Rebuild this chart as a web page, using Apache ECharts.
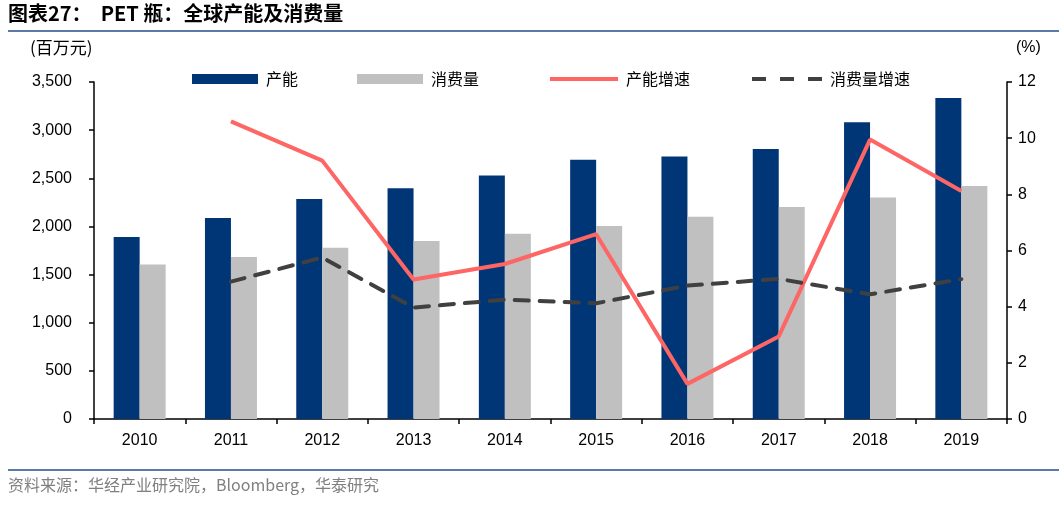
<!DOCTYPE html>
<html><head><meta charset="utf-8">
<script src="https://cdn.jsdelivr.net/npm/echarts@6/dist/echarts.min.js"></script>
<style>html,body{margin:0;padding:0;background:#fff}#c{width:1064px;height:505px}</style>
</head><body><div id="c"></div>
<script>
const years = ['2010','2011','2012','2013','2014','2015','2016','2017','2018','2019'];
const capacity = [1890, 2088, 2284, 2396, 2528, 2693, 2726, 2804, 3083, 3335];
const consumption = [1604, 1682, 1779, 1848, 1923, 2004, 2100, 2201, 2300, 2420];
const capacityGrowth = [null, 10.6, 9.2, 4.97, 5.52, 6.58, 1.25, 2.94, 9.95, 8.12];
const consumptionGrowth = [null, 4.89, 5.75, 3.97, 4.25, 4.12, 4.75, 4.99, 4.44, 4.98];
const leftTicks = {min:0, max:3500, interval:500};
const rightTicks = {min:0, max:12, interval:2};

const cjk = '"Noto Sans CJK SC", sans-serif';
const lat = '"Liberation Sans", Arial, sans-serif';
const chart = echarts.init(document.getElementById('c'));
const legendText = {fontFamily: cjk, fontSize: 16, color: '#000', padding:[0,0,0,3]};
chart.setOption({
  animation: false,
  grid: {left: 94, right: 57, top: 82, bottom: 86},
  graphic: [
    {type:'text', left: 8, top: 3, style:{text:'图表27：  PET 瓶：全球产能及消费量', font:'bold 20px "Noto Sans CJK SC", sans-serif', fill:'#000'}},
    {type:'line', shape:{x1:8, y1:31, x2:1059, y2:31}, style:{stroke:'#5b7ba6', lineWidth:2}},
    {type:'text', left: 30, top: 39, style:{text:'(百万元)', font:'17px "Noto Sans CJK SC", sans-serif', fill:'#000'}},
    {type:'text', left: 1016, top: 40, style:{text:'(%)', font:'16px "Liberation Sans", Arial, sans-serif', fill:'#000'}},
    {type:'line', shape:{x1:8, y1:470, x2:1059, y2:470}, style:{stroke:'#5b7ba6', lineWidth:2}},
    {type:'text', left: 8, top: 477, style:{text:'资料来源：华经产业研究院，Bloomberg，华泰研究', font:'16px "Noto Sans CJK SC", sans-serif', fill:'#808080'}}
  ],
  legend: [
    {data:['产能'], left:187, top:66, itemWidth:66, itemHeight:10, itemGap:0, textStyle:legendText, icon:'rect'},
    {data:['消费量'], left:352, top:66, itemWidth:66, itemHeight:10, itemGap:0, textStyle:legendText, icon:'rect'},
    {data:['产能增速'], left:545, top:66, itemWidth:68, itemHeight:10, itemGap:0, textStyle:legendText,
     icon:'path://M0,3h68v4h-68z'},
    {data:['消费量增速'], left:747, top:66, itemWidth:70, itemHeight:10, itemGap:0, textStyle:legendText,
     icon:'path://M0,3h14v4h-14z M28,3h14v4h-14z M56,3h14v4h-14z M0,0h0.01v10h-0.01z'}
  ],
  xAxis: {
    type:'category', data: years, boundaryGap: true,
    axisLine:{lineStyle:{color:'#000', width:1.5}},
    axisTick:{show:true, length:5, lineStyle:{color:'#000', width:1.5}},
    axisLabel:{color:'#000', fontFamily: lat, fontSize:16, margin:14}
  },
  yAxis: [
    {type:'value', min:leftTicks.min, max:leftTicks.max, interval:leftTicks.interval,
     axisLine:{show:true, lineStyle:{color:'#000', width:1.5}},
     axisTick:{show:true, length:5, lineStyle:{color:'#000', width:1.5}},
     splitLine:{show:false},
     axisLabel:{color:'#000', fontFamily: lat, fontSize:16, margin:22,
       formatter: v => v.toLocaleString('en-US')}},
    {type:'value', min:rightTicks.min, max:rightTicks.max, interval:rightTicks.interval, position:'right',
     axisLine:{show:true, lineStyle:{color:'#000', width:1.5}},
     axisTick:{show:true, length:5, lineStyle:{color:'#000', width:1.5}},
     splitLine:{show:false},
     axisLabel:{color:'#000', fontFamily: lat, fontSize:16, margin:11}}
  ],
  series: [
    {name:'产能', type:'bar', data: capacity, barWidth:26, barGap:'0%', itemStyle:{color:'#003676'}},
    {name:'消费量', type:'bar', data: consumption, barWidth:26, itemStyle:{color:'#c0c0c0'}},
    {name:'产能增速', type:'line', yAxisIndex:1, data: capacityGrowth, symbol:'none',
     lineStyle:{color:'#fe6565', width:4}, itemStyle:{color:'#fe6565'}},
    {name:'消费量增速', type:'line', yAxisIndex:1, data: consumptionGrowth, symbol:'none',
     lineStyle:{color:'#404040', width:4, type:[14,11], cap:'round'}, itemStyle:{color:'#404040'}}
  ]
});
</script></body></html>
